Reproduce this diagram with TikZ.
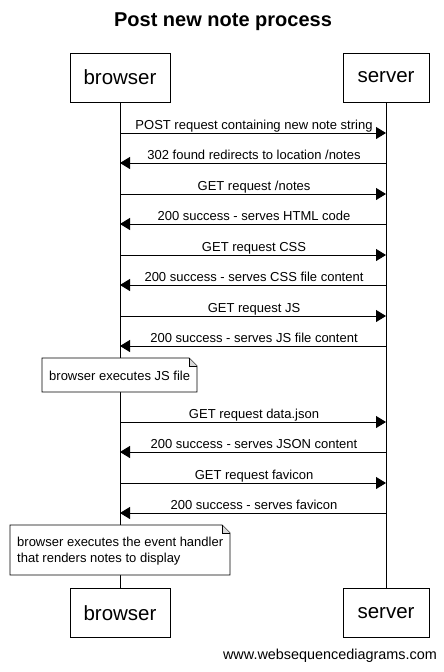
\documentclass[tikz,border=0pt]{standalone}
\usepackage{fontspec}
\setmainfont{Liberation Sans}
\usetikzlibrary{arrows.meta}
\begin{document}
\begin{tikzpicture}[x=1pt,y=-1pt,
  actor/.style={draw,line width=0.9pt,minimum width=100pt,minimum height=49pt,inner sep=0pt,font=\fontsize{20.5}{23}\selectfont},
  msg/.style={line width=0.9pt,-{Triangle[length=10pt,width=12pt]}},
  lbl/.style={font=\fontsize{13}{15}\selectfont,inner sep=0pt,anchor=base},
  lifeline/.style={line width=0.9pt},
  notetext/.style={font=\fontsize{13}{16}\selectfont,align=left,inner sep=0pt,anchor=west}]
\useasboundingbox (0,0) rectangle (444,672);
\fill[white] (0,0) rectangle (444,672);
\node[font=\bfseries\fontsize{20}{23}\selectfont] (title) at (223,22) {Post new note process};
\node[actor] (bt) at (120,77.5) {browser};
\node[actor,minimum width=86pt] (st) at (386,77.5) {server};
\node[actor] (bb) at (120,613) {browser};
\node[actor,minimum width=86pt] (sb) at (386,613) {server};
\draw[lifeline] (bt.south) -- (bb.north);
\draw[lifeline] (st.south) -- (sb.north);
% messages
\foreach \i/\y/\dir/\txt in {
  1/133/r/{POST request containing new note string},
  2/163/l/{302 found redirects to location /notes},
  3/194/r/{GET request /notes},
  4/224/l/{200 success - serves HTML code},
  5/255/r/{GET request CSS},
  6/285/l/{200 success - serves CSS file content},
  7/316/r/{GET request JS},
  8/346/l/{200 success - serves JS file content},
  9/422/r/{GET request data.json},
  10/452/l/{200 success - serves JSON content},
  11/483/r/{GET request favicon},
  12/513/l/{200 success - serves favicon}}{
  \coordinate (b\i) at (120,\y);
  \coordinate (s\i) at (386,\y);
  \node[lbl] (m\i) at (254,\y-4) {\txt};
  \if r\dir
    \draw[msg] (b\i) -- (s\i);
  \else
    \draw[msg] (s\i) -- (b\i);
  \fi
}
% note 1
\draw[line width=0.9pt,fill=white] (42,358) -- (189,358) -- (197,366) -- (197,392) -- (42,392) -- cycle;
\draw[line width=0.6pt,fill=black!15] (189,358) -- (189,366) -- (197,366);
\node[notetext] (note1) at (49,376) {browser executes JS file};
% note 2
\draw[line width=0.9pt,fill=white] (10,525) -- (222,525) -- (230,533) -- (230,575) -- (10,575) -- cycle;
\draw[line width=0.6pt,fill=black!15] (222,525) -- (222,533) -- (230,533);
\node[notetext] (note2) at (17,551) {browser executes the event handler\\that renders notes to display};
\node[font=\fontsize{14.4}{16}\selectfont,anchor=east,inner sep=0pt] (wm) at (437,656) {www.websequencediagrams.com};
\end{tikzpicture}
\end{document}
